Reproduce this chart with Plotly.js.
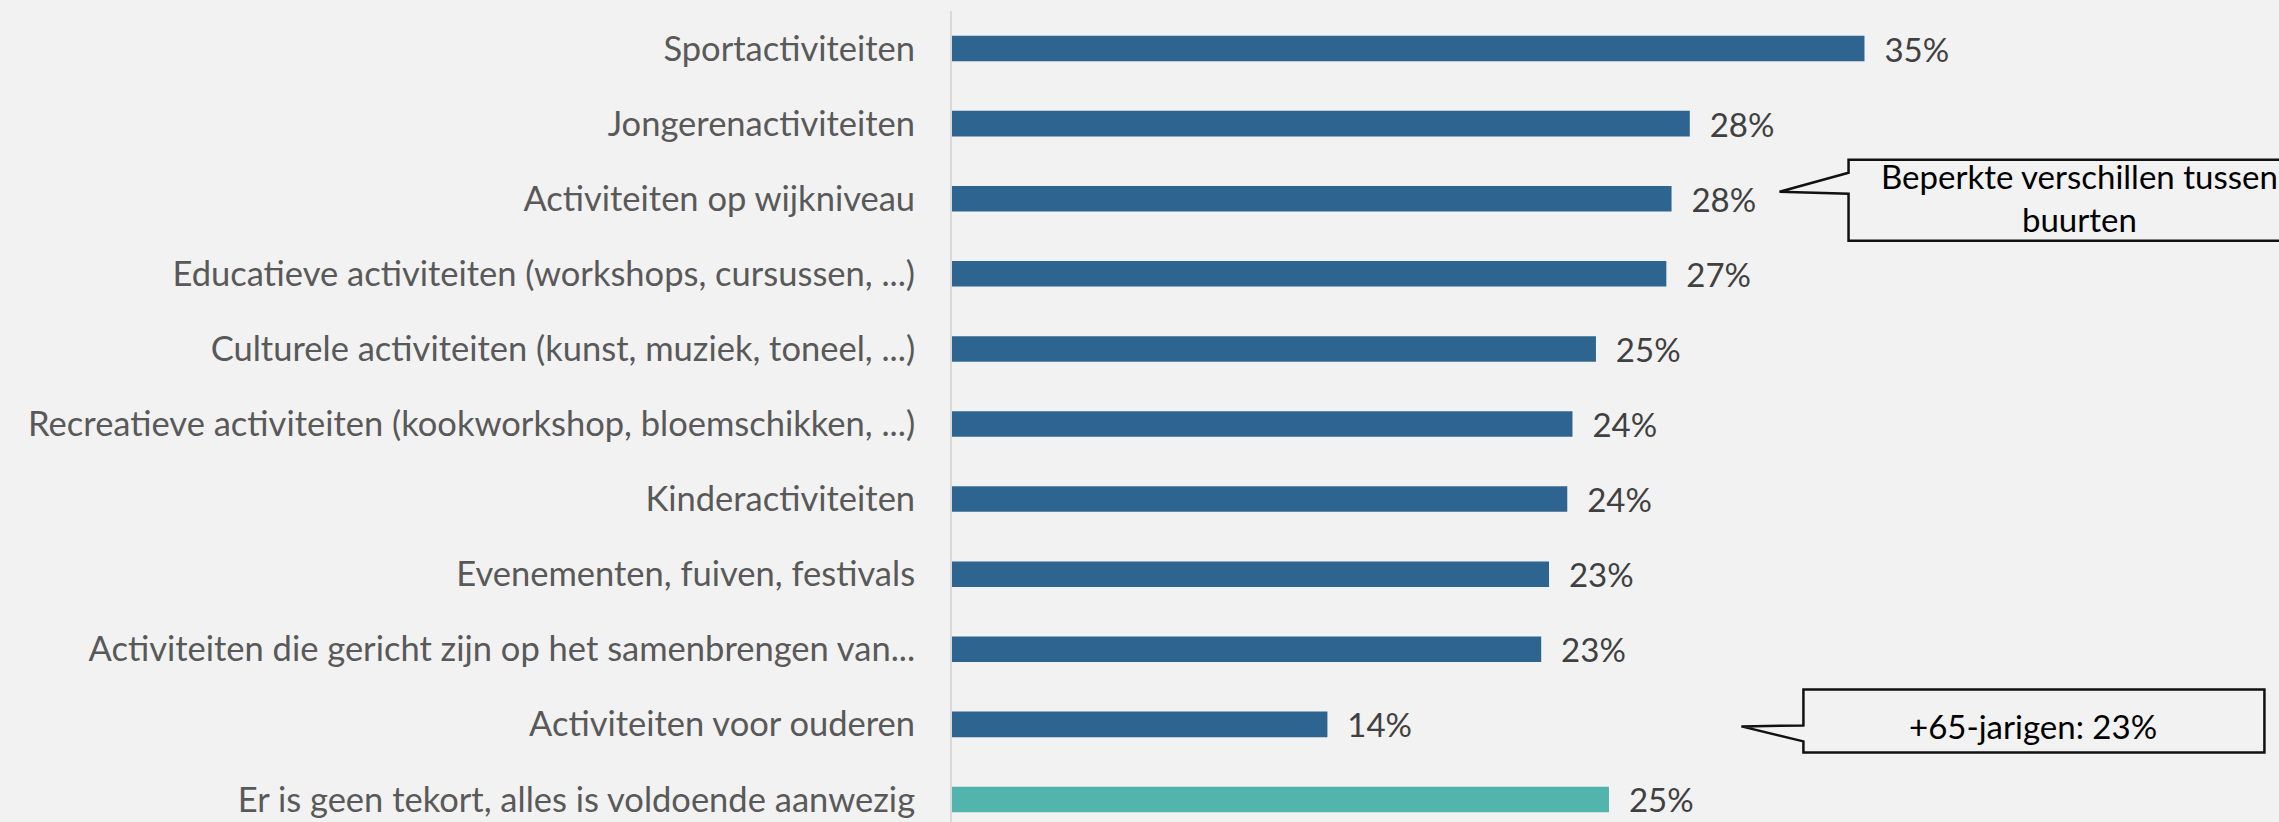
<!DOCTYPE html>
<html>
<head>
<meta charset="utf-8">
<script src="https://cdn.plot.ly/plotly-3.0.1.min.js"></script>
<style>
  html, body { margin: 0; padding: 0; background: #f2f2f2; }
  #chart { width: 2279px; height: 822px; }
</style>
</head>
<body>
<div id="chart"></div>
<script>
var categories = [
  'Sportactiviteiten',
  'Jongerenactiviteiten',
  'Activiteiten op wijkniveau',
  'Educatieve activiteiten (workshops, cursussen, ...)',
  'Culturele activiteiten (kunst, muziek, toneel, ...)',
  'Recreatieve activiteiten (kookworkshop, bloemschikken, ...)',
  'Kinderactiviteiten',
  'Evenementen, fuiven, festivals',
  'Activiteiten die gericht zijn op het samenbrengen van...',
  'Activiteiten voor ouderen',
  'Er is geen tekort, alles is voldoende aanwezig'
];
var values = [35.0, 28.3, 27.6, 27.4, 24.7, 23.8, 23.6, 22.9, 22.6, 14.4, 25.2];
var noShortage = 'Er is geen tekort, alles is voldoende aanwezig';

var blue = '#2e6590';
var teal = '#52b5ad';
var colors = categories.map(function (c) { return c === noShortage ? teal : blue; });

var CHART = document.getElementById('chart');

var trace = {
  type: 'bar',
  orientation: 'h',
  x: values,
  y: categories,
  marker: { color: colors },
  texttemplate: '&nbsp;&nbsp;%{x:.0f}%',
  textposition: 'outside',
  constraintext: 'none',
  cliponaxis: false,
  textfont: { family: 'Lato', size: 33, color: '#404040' },
  hoverinfo: 'none'
};

// callouts, anchored on their bar
var callouts = [
  { cat: 2, text: 'Beperkte verschillen tussen<br>buurten', dx: 408, dy: 1,
    path: 'M177,26 L108,7 L177,5 L177,-42 L639,-42 L639,39 L177,39 Z' },
  { cat: 9, text: '+65-jarigen: 23%', dx: 706, dy: -2,
    path: 'M476,-1 L414,-2 L476,-17 L476,-28 L937,-28 L937,35 L476,35 Z' }
];

var shapes = callouts.map(function (c) {
  return {
    type: 'path', xref: 'x', yref: 'y',
    xsizemode: 'pixel', ysizemode: 'pixel',
    xanchor: values[c.cat], yanchor: categories[c.cat],
    path: c.path,
    fillcolor: '#f2f2f2',
    line: { color: '#111111', width: 2.5 },
    layer: 'above'
  };
});

var annotations = callouts.map(function (c) {
  return {
    xref: 'x', yref: 'y',
    x: values[c.cat], y: categories[c.cat],
    xshift: c.dx, yshift: c.dy,
    text: c.text, showarrow: false,
    xanchor: 'center', yanchor: 'middle',
    font: { family: 'Lato', size: 33, color: '#000000' }
  };
});

var layout = {
  width: 2279, height: 822,
  margin: { l: 952, r: 0, t: 11, b: 0 },
  paper_bgcolor: '#f2f2f2',
  plot_bgcolor: '#f2f2f2',
  bargap: 0.66,
  showlegend: false,
  font: { family: 'Lato', size: 34, color: '#595959' },
  xaxis: {
    range: [0, 50.9],
    showgrid: false, zeroline: false, showticklabels: false, showline: false
  },
  yaxis: {
    type: 'category',
    range: [10.3, -0.5],
    showgrid: false, zeroline: false,
    showline: true, linecolor: '#d9d9d9', linewidth: 2,
    ticks: '', ticklabelstandoff: 28,
    tickfont: { family: 'Lato', size: 34.5, color: '#595959' }
  },
  shapes: shapes,
  annotations: annotations
};

Plotly.newPlot(CHART, [trace], layout, { displayModeBar: false, staticPlot: true });
</script>
</body>
</html>
